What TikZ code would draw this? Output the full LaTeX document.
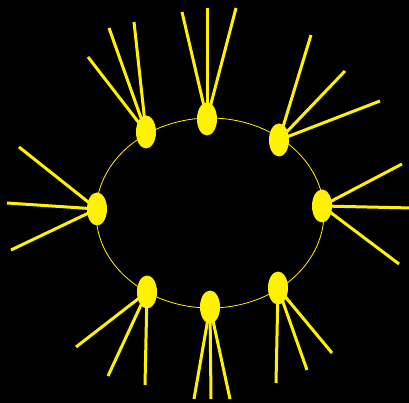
\documentclass[tikz,border=0pt]{standalone}
\usetikzlibrary{backgrounds,shapes.geometric}
\begin{document}
\begin{tikzpicture}[x=1pt,y=-1pt,
  hub/.style={ellipse,fill=yellow,minimum width=20pt,minimum height=33pt,inner sep=0pt},
  spoke/.style={draw=yellow,line width=3pt},
  ring/.style={draw=yellow,line width=0.8pt}]
\useasboundingbox (0,0) rectangle (409,403);
\node[hub] (n1) at (146,132) {};
\node[hub] (n2) at (207,119) {};
\node[hub] (n3) at (279,140) {};
\node[hub] (n4) at (322,206) {};
\node[hub] (n5) at (278,288) {};
\node[hub] (n6) at (210,307) {};
\node[hub] (n7) at (147,292) {};
\node[hub] (n8) at (97,209) {};
\coordinate (a1) at (88,57);  \coordinate (b1) at (109,28);  \coordinate (c1) at (134,22);
\coordinate (a2) at (182,12); \coordinate (b2) at (207,8);   \coordinate (c2) at (236,8);
\coordinate (a3) at (311,35); \coordinate (b3) at (345,71);  \coordinate (c3) at (380,101);
\coordinate (a4) at (402,164);\coordinate (b4) at (412,208); \coordinate (c4) at (399,264);
\coordinate (a5) at (276,383);\coordinate (b5) at (307,370); \coordinate (c5) at (332,353);
\coordinate (a6) at (194,399);\coordinate (b6) at (211,399); \coordinate (c6) at (230,399);
\coordinate (a7) at (76,347); \coordinate (b7) at (108,376); \coordinate (c7) at (145,385);
\coordinate (a8) at (19,147); \coordinate (b8) at (7,203);   \coordinate (c8) at (11,250);
\begin{scope}[on background layer]
\fill[black] (0,0) rectangle (409,403);
\draw[ring] (210,213) ellipse [x radius=114, y radius=95];
\foreach \i in {1,...,8}{
  \draw[spoke] (n\i.center) -- (a\i);
  \draw[spoke] (n\i.center) -- (b\i);
  \draw[spoke] (n\i.center) -- (c\i);
}
\end{scope}
\end{tikzpicture}
\end{document}
